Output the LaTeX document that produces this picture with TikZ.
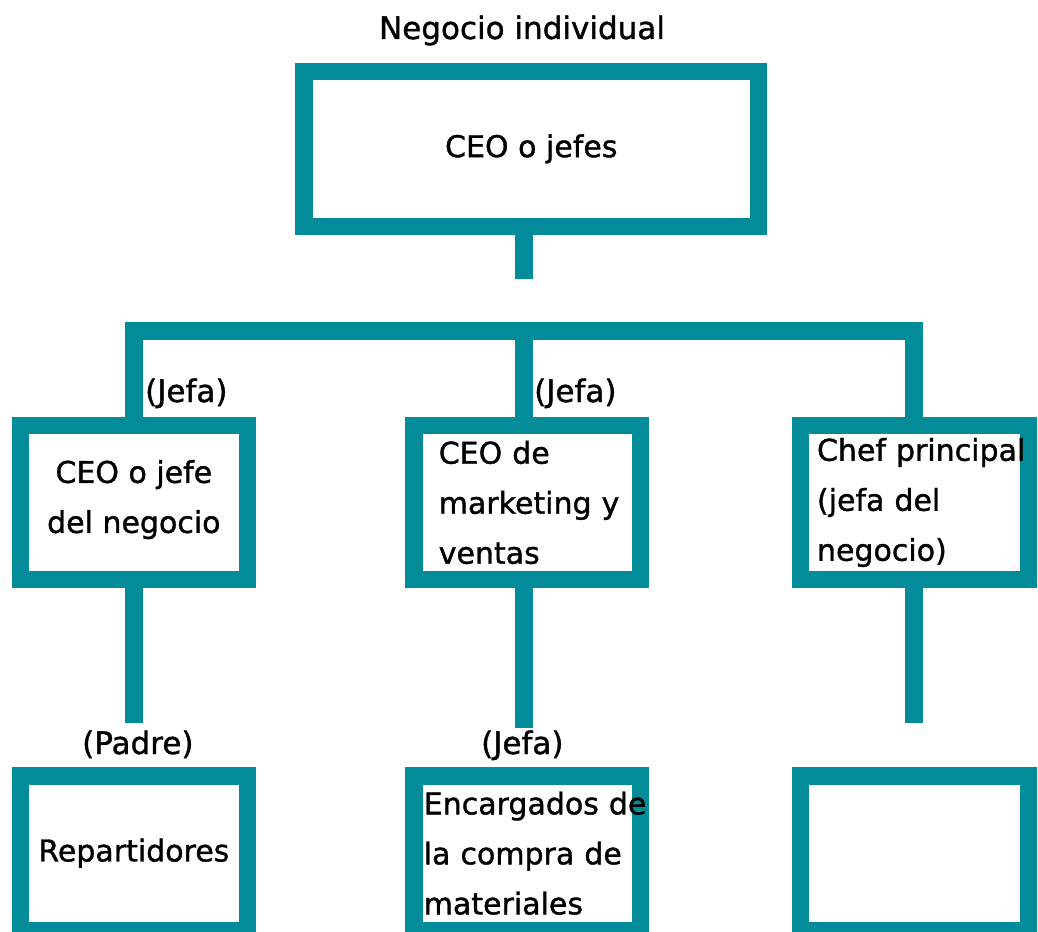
\documentclass[tikz,border=0pt]{standalone}
\usepackage{fontspec}
\setmainfont{DejaVu Sans}[BoldFont=DejaVu Sans, BoldFeatures={FakeBold=1.2}]
\definecolor{teal1}{RGB}{2,139,153}
\begin{document}
\begin{tikzpicture}[x=1pt,y=-1pt,
  orgbox/.style={draw=teal1, fill=white, line width=17.5pt, rectangle, inner ysep=0pt,
    font=\fontsize{30}{50}\selectfont\bfseries},
  link/.style={draw=teal1, line width=17.5pt, line cap=butt, line join=miter},
  lbl/.style={font=\fontsize{31}{36}\selectfont\bfseries, inner sep=0pt, anchor=base west}]
\useasboundingbox (0,0) rectangle (1038,931);
% title
\node[lbl, anchor=base] (title) at (522,39) {Negocio individual};
% connector end points
\coordinate (stemend) at (524.1,279.3);
\coordinate (bar) at (524.1,330.8);
\coordinate (e1) at (134,723.3);
\coordinate (e2) at (524.1,728);
\coordinate (e3) at (914.05,723);
% boxes
\node[orgbox, minimum width=454.5pt, minimum height=154.8pt] (top) at (531.3,148.85) {CEO o jefes};
\node[orgbox, align=center, minimum width=226.8pt, minimum height=154.1pt] (c1) at (133.85,502.5)
  {CEO o jefe\\del negocio\\[-38pt]\mbox{}};
\node[orgbox, align=left, text width=176.5pt, inner xsep=25pt, minimum height=154.1pt] (c2) at (527,502.5)
  {\mbox{CEO de}\\\mbox{marketing y}\\\mbox{ventas}};
\node[orgbox, align=left, text width=194.5pt, inner xsep=16.75pt, minimum height=154.1pt] (c3) at (914.25,502.5)
  {\mbox{Chef principal}\\\mbox{(jefa del}\\\mbox{negocio)}};
\node[orgbox, align=center, minimum width=226.8pt, minimum height=154.2pt] (d1) at (133.85,853.15)
  {Repartidores};
\node[orgbox, align=left, text width=206.5pt, inner xsep=10pt, minimum height=154.2pt] (d2) at (527,853.15)
  {\mbox{Encargados de}\\\mbox{la compra de}\\\mbox{materiales}};
\node[orgbox, minimum width=228pt, minimum height=154.2pt] (d3) at (914.25,853.15) {};
% connector lines
\draw[link] (top.south -| stemend) -- (stemend);
\draw[link] (c1.north -| e1) |- (bar) -| (c3.north -| e3);
\draw[link] (bar) -- (bar |- c2.north);
\draw[link] (c1.south -| e1) -- (e1);
\draw[link] (c2.south -| e2) -- (e2);
\draw[link] (c3.south -| e3) -- (e3);
% labels
\node[lbl] (l1) at (145,402) {(Jefa)};
\node[lbl] (l2) at (534,402) {(Jefa)};
\node[lbl] (l3) at (82,754) {(Padre)};
\node[lbl] (l4) at (481,754) {(Jefa)};
\end{tikzpicture}
\end{document}
